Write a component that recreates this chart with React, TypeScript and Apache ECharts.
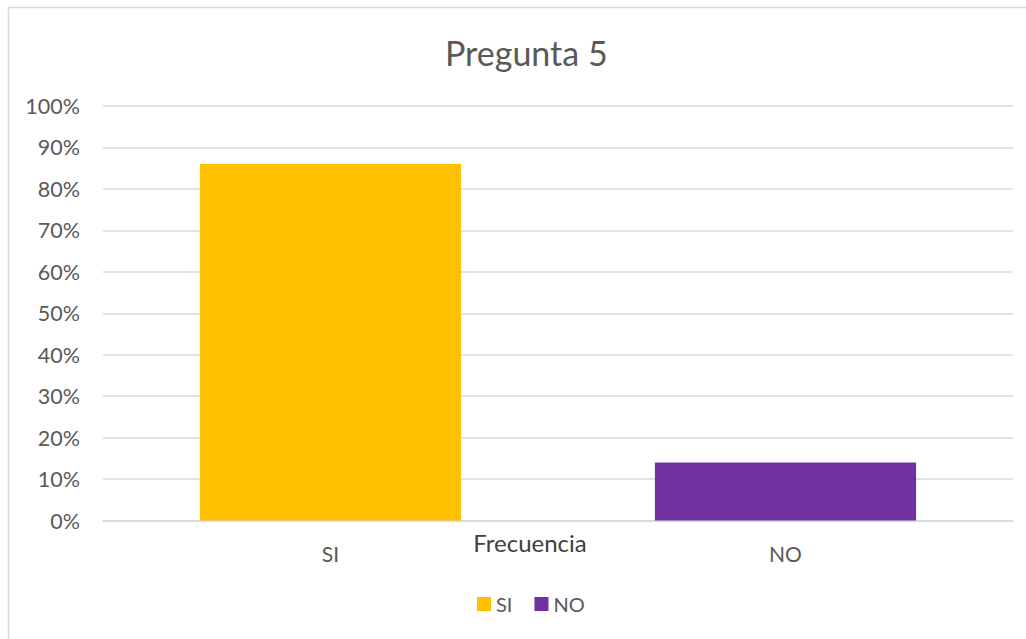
import React, { useEffect, useRef } from "react";
import * as echarts from "echarts";

const title = "Pregunta 5";
const categories = ["SI", "NO"];
const seriesNames = ["SI", "NO"];
const siValues = [86, "-"];
const noValues = ["-", 14];
const axisName = "Frecuencia";
const colors = ["#FFC000", "#7030A0"];

export default function App() {
  const ref = useRef<HTMLDivElement>(null);
  useEffect(() => {
    if (!ref.current) return;
    const chart = echarts.init(ref.current, null, { renderer: "svg" });
    const font = "Lato, 'Open Sans', sans-serif";
    chart.setOption({
      animation: false,
      backgroundColor: "#ffffff",
      textStyle: { fontFamily: font },
      title: {
        text: title,
        left: 440,
        top: 30,
        textStyle: { fontFamily: font, fontSize: 34, fontWeight: "normal", color: "#595959" },
      },
      legend: {
        data: seriesNames,
        bottom: 20,
        left: 472,
        itemWidth: 14,
        itemHeight: 14,
        itemGap: 22,
        icon: "rect",
        textStyle: { fontFamily: font, fontSize: 20, color: "#595959", padding: [0, 0, 0, 0] },
      },
      grid: { left: 103, right: 13, top: 106, bottom: 118.5, containLabel: false },
      xAxis: {
        type: "category",
        data: categories,
        axisLine: { show: true, lineStyle: { color: "#d9d9d9", width: 1.5 } },
        axisTick: { show: false },
        axisLabel: { fontFamily: font, fontSize: 21, color: "#595959", margin: 22 },
      },
      yAxis: {
        type: "value",
        min: 0,
        max: 100,
        interval: 10,
        axisLine: { show: false },
        axisTick: { show: false },
        splitLine: { lineStyle: { color: "#d9d9d9", width: 1.5 } },
        axisLabel: { fontFamily: font, fontSize: 21.5, color: "#595959", margin: 23, formatter: "{value}%" },
      },
      graphic: [
        {
          type: "rect",
          shape: { x: 8.5, y: 7.5, width: 1030, height: 640 },
          style: { fill: "none", stroke: "#d9d9d9", lineWidth: 1.5 },
          silent: true,
        },
        {
          type: "text",
          x: 530,
          y: 542,
          style: {
            text: axisName,
            font: `24px ${font}`,
            fill: "#404040",
            align: "center",
            verticalAlign: "middle",
          },
        },
      ],
      series: [
        {
          name: seriesNames[0],
          type: "bar",
          stack: "total",
          data: siValues,
          barWidth: "57.4%",
          itemStyle: { color: colors[0] },
        },
        {
          name: seriesNames[1],
          type: "bar",
          stack: "total",
          data: noValues,
          barWidth: "57.4%",
          itemStyle: { color: colors[1] },
        },
      ],
    });
    return () => chart.dispose();
  }, []);
  return (
    <div
      ref={ref}
      style={{ position: "fixed", left: 0, top: 0, width: 1026, height: 639 }}
    />
  );
}
